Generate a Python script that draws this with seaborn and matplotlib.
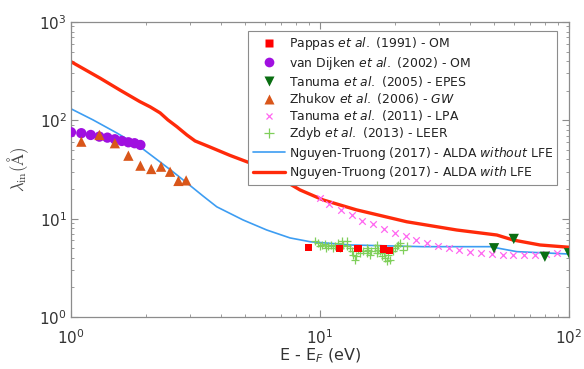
import matplotlib
matplotlib.use("Agg")
import matplotlib.pyplot as plt
import seaborn as sns
import pandas as pd
from matplotlib.lines import Line2D

# ---------------- data ----------------
pappas_E = [9.0, 12.0, 14.2, 18.0, 19.0]
pappas_L = [5.12, 5.0, 5.0, 4.92, 4.72]

dijken_E = [1.0, 1.1, 1.2, 1.3, 1.4, 1.5, 1.6, 1.7, 1.8, 1.9]
dijken_L = [75.7, 74.0, 71.0, 68.3, 66.7, 64.2, 61.7, 59.8, 58.5, 56.2]

tanuma05_E = [50.0, 60.0, 80.0, 100.0]
tanuma05_L = [5.0, 6.22, 4.1, 4.45]

zhukov_E = [1.1, 1.3, 1.5, 1.7, 1.9, 2.1, 2.3, 2.5, 2.7, 2.9]
zhukov_L = [60.7, 71.0, 58.5, 43.7, 34.6, 32.0, 33.8, 30.0, 24.2, 24.5]

tanuma11_E = [10.0, 10.9, 12.1, 13.4, 14.8, 16.4, 18.1, 20.0, 22.1, 24.3, 26.8,
              29.8, 33.0, 36.3, 40.0, 44.3, 49.0, 54.1, 59.8, 66.1, 73.0, 80.8, 89.3]
tanuma11_L = [16.1, 14.1, 12.3, 10.9, 9.55, 8.78, 7.80, 7.20, 6.67, 6.07, 5.66,
              5.27, 5.0, 4.75, 4.58, 4.45, 4.34, 4.27, 4.27, 4.27, 4.27, 4.34, 4.45]

zdyb_E = [9.55, 9.85, 10.2, 10.5, 10.8, 11.1, 11.5, 11.8, 12.2, 12.4, 12.8, 13.2,
          13.4, 13.6, 13.8, 14.0, 14.5, 14.9, 15.4, 15.6, 15.9, 16.1, 16.6, 16.9,
          17.4, 17.7, 18.2, 18.5, 18.8, 19.1, 19.7, 20.0, 20.3, 20.6, 20.9, 21.6,
          22.3, 16.9, 15.4, 12.0, 11.3, 10.6, 10.0, 12.8, 17.1, 18.0, 14.2]
zdyb_L = [5.89, 5.66, 5.44, 5.53, 5.24, 5.44, 5.24, 5.66, 5.89, 5.44, 5.24, 5.03,
          4.66, 4.30, 3.83, 4.14, 4.48, 4.66, 4.48, 4.84, 4.30, 4.66, 5.03, 4.48,
          4.66, 4.14, 3.98, 3.69, 4.30, 3.83, 4.66, 5.03, 5.24, 5.44, 5.66, 4.84,
          5.24, 5.44, 5.03, 5.03, 5.03, 5.03, 5.24, 5.89, 4.84, 4.48, 4.84]

noLFE_E = [1.0, 1.226, 1.526, 1.89, 2.28, 2.57, 2.92, 3.39, 3.85, 4.91, 6.11,
           7.58, 9.12, 13.2, 25.9, 48.2, 61.7, 100.0]
noLFE_L = [131, 101, 74.5, 54, 37.7, 29.9, 23.1, 17.0, 13.2, 9.7, 7.67,
           6.37, 5.83, 5.40, 5.19, 5.19, 4.62, 4.37]

LFE_E = [1.0, 1.31, 1.573, 1.89, 2.08, 2.28, 2.45, 2.66, 2.92, 3.15, 3.61, 4.35,
         5.23, 6.01, 7.10, 8.31, 10.3, 14.0, 22.3, 35.4, 51.3, 59.6, 76.5, 100.0]
LFE_L = [395, 268, 203, 155, 137, 119, 101, 86.3, 71, 61.7, 53.6, 44.0,
         36.9, 31.3, 24.8, 19.6, 15.5, 12.3, 9.3, 7.67, 6.82, 6.07, 5.4, 5.12]

labels = [r"Pappas $\it{et\ al.}$ (1991) - OM",
          r"van Dijken $\it{et\ al.}$ (2002) - OM",
          r"Tanuma $\it{et\ al.}$ (2005) - EPES",
          r"Zhukov $\it{et\ al.}$ (2006) - $\it{GW}$",
          r"Tanuma $\it{et\ al.}$ (2011) - LPA",
          r"Zdyb $\it{et\ al.}$ (2013) - LEER",
          r"Nguyen-Truong (2017) - ALDA $\it{without}$ LFE",
          r"Nguyen-Truong (2017) - ALDA $\it{with}$ LFE"]

# ---------------- style ----------------
sns.set_theme(style="ticks")
plt.rcParams["font.family"] = ["DejaVu Sans"]
plt.rcParams["mathtext.fontset"] = "dejavusans"

fig = plt.figure(figsize=(5.84, 3.69), dpi=100)
ax = fig.add_axes([71/584, 1-317/369, (569-71)/584, (317-22)/369])

c_blue = "#3d9df2"
c_red = "#ff2a0a"

sns.lineplot(x=noLFE_E, y=noLFE_L, ax=ax, color=c_blue, lw=1.2, sort=False,
             estimator=None, zorder=2)
sns.lineplot(x=LFE_E, y=LFE_L, ax=ax, color=c_red, lw=2.4, sort=False,
             estimator=None, zorder=2)

sns.scatterplot(x=zdyb_E, y=zdyb_L, ax=ax, marker="+", color="#7fcf5a", s=40,
                linewidth=0.9, zorder=3)
sns.scatterplot(x=tanuma11_E, y=tanuma11_L, ax=ax, marker="x", color="#ff66f0",
                s=22, linewidth=0.9, zorder=3)
sns.scatterplot(x=pappas_E, y=pappas_L, ax=ax, marker="s", color="#ff0000", s=28,
                edgecolor="none", zorder=4)
sns.scatterplot(x=dijken_E, y=dijken_L, ax=ax, marker="o", color="#a010e0", s=55,
                edgecolor="none", zorder=4)
sns.scatterplot(x=zhukov_E, y=zhukov_L, ax=ax, marker="^", color="#d9561a", s=55,
                edgecolor="none", zorder=4)
sns.scatterplot(x=tanuma05_E, y=tanuma05_L, ax=ax, marker="v", color="#0a6e12", s=55,
                edgecolor="none", zorder=4)

ax.set_xscale("log")
ax.set_yscale("log")
ax.set_xlim(1, 100)
ax.set_ylim(1, 1000)

spine_c = "#8c8c8c"
for sp in ax.spines.values():
    sp.set_visible(True)
    sp.set_color(spine_c)
    sp.set_linewidth(0.9)

ax.tick_params(which="both", direction="in", top=True, right=True, color=spine_c,
               labelcolor="#333333", labelsize=11)
ax.tick_params(which="major", length=5, width=0.8)
ax.tick_params(which="minor", length=2.5, width=0.6)
ax.tick_params(axis="x", which="major", pad=8)
ax.tick_params(axis="y", which="major", pad=3)

ax.set_xlabel(r"E - E$_F$ (eV)", fontsize=11.5, color="#333333", labelpad=0)
ax.set_ylabel(r"$\lambda_{\rm in}(\rm\AA)$", fontsize=12, color="#444444",
              math_fontfamily="cm", labelpad=6)

handles = [
    Line2D([], [], ls="none", marker="s", color="#ff0000", ms=5.5, mec="none"),
    Line2D([], [], ls="none", marker="o", color="#a010e0", ms=7, mec="none"),
    Line2D([], [], ls="none", marker="v", color="#0a6e12", ms=7, mec="none"),
    Line2D([], [], ls="none", marker="^", color="#d9561a", ms=7, mec="none"),
    Line2D([], [], ls="none", marker="x", color="#ff66f0", ms=5, mew=0.9),
    Line2D([], [], ls="none", marker="+", color="#7fcf5a", ms=6.5, mew=0.9),
    Line2D([], [], color=c_blue, lw=1.2),
    Line2D([], [], color=c_red, lw=2.4),
]
leg = ax.legend(handles, labels, loc="upper right",
                bbox_to_anchor=((557-71)/498, (317-31)/295),
                fontsize=8.9, frameon=True,
                fancybox=False, framealpha=1, edgecolor="#8c8c8c",
                labelspacing=0.18, handlelength=2.6, handletextpad=0.3,
                borderaxespad=0, borderpad=0.35)
leg.get_frame().set_linewidth(0.8)
for t in leg.get_texts():
    t.set_color("#222222")

fig.savefig("out.png", dpi=100)
